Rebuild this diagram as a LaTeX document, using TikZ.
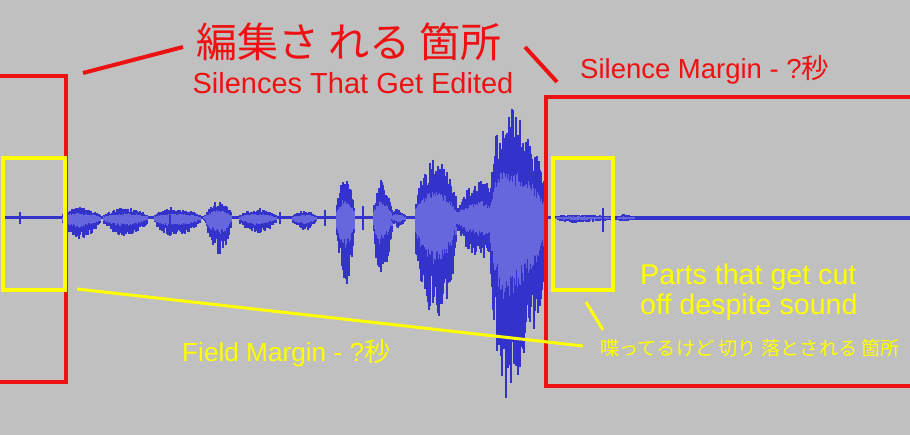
\documentclass[tikz,border=0pt]{standalone}
\usepackage{fontspec}
\setmainfont{Liberation Sans}
\newfontfamily\jpfont{Noto Sans CJK JP}
\usetikzlibrary{positioning}
\definecolor{bggray}{HTML}{C0C0C0}
\definecolor{markred}{HTML}{EE1111}
\definecolor{markyellow}{HTML}{FFFF00}
\definecolor{wavedark}{HTML}{3333CC}
\definecolor{wavelight}{HTML}{6666DD}

\begin{document}
\begin{tikzpicture}[x=1pt, y=-1pt,
    redbox/.style={draw=markred, line width=3.5pt},
    yelbox/.style={draw=markyellow, line width=4pt},
    redline/.style={markred, line width=4pt},
    yelline/.style={markyellow, line width=3pt},
    redtext/.style={text=markred, inner sep=0pt},
    yeltext/.style={text=markyellow, inner sep=0pt, align=left}
]
% background and frame
\fill[bggray] (0,0) rectangle (910,435);
\useasboundingbox (0,0) rectangle (910,435);

% the waveform: center line, then bursts
\pgfmathsetseed{7}
\draw[wavedark, line width=3pt] (5,218) -- (910,218);
\draw[wavedark, line width=4pt] (615,218) -- (910,218);
\foreach \xa/\xb/\pk/\up/\dn in {63/100/80/12/22, 104/147/125/11/19, 155/200/172/11/20,
    204/216/210/8/8, 207/231/220/19/38, 240/276/258/10/16, 293/316/305/8/14,
    337/354/346/45/72, 374/392/380/40/60, 392/405/398/10/10, 416/456/436/65/109,
    457/493/485/40/44, 491/545/504/118/185, 555/612/575/4/5, 618/634/624/4/4}{
  \foreach \x in {\xa,...,\xb}{
    \pgfmathsetmacro\t{\x<\pk ? (\x-\xa)/(\pk-\xa) : (\xb-\x)/(\xb-\pk)}
    \pgfmathsetmacro\e{max(\t,0.05)^0.35}
    \pgfmathsetmacro\ra{0.55+0.45*rnd}
    \pgfmathsetmacro\rb{0.55+0.45*rnd}
    \pgfmathsetmacro\rc{0.3+0.15*rnd}
    \pgfmathsetmacro\rd{0.3+0.15*rnd}
    \draw[wavedark, line width=1.2pt] (\x,218-\up*\e*\ra) -- (\x,218+\dn*\e*\rb);
    \draw[wavelight, line width=1.2pt] (\x,218-\rc*\up*\e) -- (\x,218+\rd*\dn*\e);
  }
}
% lone spikes
\foreach \x/\h/\d in {20/6/6, 170/3/18, 280/6/6, 325/8/8, 363/12/12, 603/10/14}
  \draw[wavedark, line width=1.5pt] (\x,218-\h) -- (\x,218+\d);

% red boxes = silences that get edited
\draw[redbox] (-10,76) rectangle (66,382);
\draw[redbox] (546,97) rectangle (920,386);

% yellow boxes = margins
\draw[yelbox] (3,158) rectangle (65,290);
\draw[yelbox] (553,158) rectangle (613,290);

% labels
\node[redtext, font=\jpfont\fontsize{41}{41}\selectfont] (title) at (349,42) {編集さ れる 箇所};
\node[redtext, font=\fontsize{29}{30}\selectfont] (subtitle) at (353,83) {Silences That Get Edited};
\node[redtext, anchor=west, font=\fontsize{27.5}{28}\selectfont] (silmargin) at (580,70) {Silence Margin - ?{\jpfont 秒}};
\node[yeltext, anchor=west, font=\fontsize{28.6}{30}\selectfont] (cutparts) at (640,292) {Parts that get cut\\off despite sound};
\node[yeltext, anchor=west, font=\jpfont\fontsize{19.2}{20}\selectfont] (cutjp) at (600,348) {喋ってるけど 切り 落とされる 箇所};
\node[yeltext, anchor=west, font=\fontsize{26.2}{28}\selectfont] (fieldmargin) at (182,353) {Field Margin - ?{\jpfont 秒}};

% pointer lines
\coordinate (redl1) at (83,73);
\coordinate (redl2) at (183,47);
\coordinate (redr1) at (525,47);
\coordinate (redr2) at (557,82);
\draw[redline] (redl1) -- (redl2);
\draw[redline] (redr1) -- (redr2);
\coordinate (yell1) at (77,289);
\coordinate (yell2) at (583,346);
\coordinate (yelr1) at (586,302);
\coordinate (yelr2) at (603,330);
\draw[yelline] (yell1) -- (yell2);
\draw[yelline] (yelr1) -- (yelr2);
\end{tikzpicture}
\end{document}
